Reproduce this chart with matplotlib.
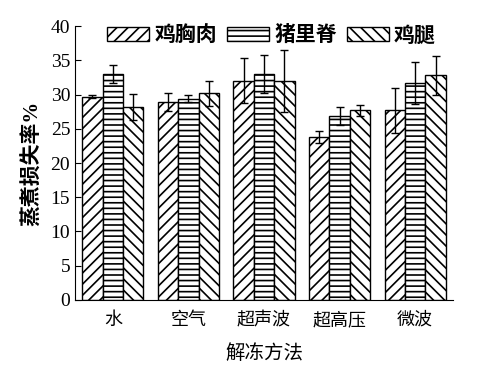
import numpy as np
import matplotlib.pyplot as plt

plt.rcParams['font.family'] = ['Liberation Serif', 'Noto Sans CJK SC']
plt.rcParams['hatch.linewidth'] = 1.2
plt.rcParams['hatch.color'] = 'black'

methods = ['水', '空气', '超声波', '超高压', '微波']
series = ['鸡胸肉', '猪里脊', '鸡腿']
breast = [29.7, 28.9, 32.0, 23.8, 27.7]
breast_err = [0.2, 1.3, 3.3, 0.9, 3.3]
pork = [33.0, 29.4, 33.0, 26.9, 31.7]
pork_err = [1.3, 0.5, 2.8, 1.3, 3.1]
leg = [28.2, 30.2, 32.0, 27.7, 32.8]
leg_err = [1.9, 1.8, 4.5, 0.8, 2.9]

values = [breast, pork, leg]
errors = [breast_err, pork_err, leg_err]
hatches = ['///', '---', '\\\\\\']

fig = plt.figure(figsize=(5, 3.9), dpi=100)
ax = fig.add_axes([0.15, 0.231, 0.756, 0.702])

x = np.arange(len(methods))
w = 0.27
for i, (v, e, h, name) in enumerate(zip(values, errors, hatches, series)):
    ax.bar(x + (i - 1) * w, v, w, color='white', edgecolor='black',
           hatch=h, linewidth=1.0, label=name,
           yerr=e, capsize=3, error_kw=dict(ecolor='black', elinewidth=1, capthick=1))

ax.set_xlim(-0.5, 4.5)
ax.set_ylim(0, 40)
ax.set_yticks(range(0, 41, 5))
ax.set_xticks(x)
ax.set_xticklabels(methods, fontsize=13, family=['Noto Sans CJK SC'])
ax.tick_params(axis='y', direction='in', length=4, labelsize=14)
ax.tick_params(axis='x', length=0, pad=8)
ax.spines['top'].set_visible(False)
ax.spines['right'].set_visible(False)

ax.set_ylabel('蒸煮损失率%', fontsize=15, fontweight='bold', labelpad=5)
ax.set_xlabel('解冻方法', fontsize=14, family=['Noto Sans CJK SC'], labelpad=10)

leg_obj = ax.legend(loc='upper center', bbox_to_anchor=(0.52, 1.075), ncol=3,
                    frameon=False, handlelength=2.0, handleheight=0.7,
                    columnspacing=0.5, handletextpad=0.25,
                    prop={'family': 'Noto Sans CJK SC', 'size': 15, 'weight': 'bold'})

fig.savefig('out.png', dpi=100, facecolor='white')
